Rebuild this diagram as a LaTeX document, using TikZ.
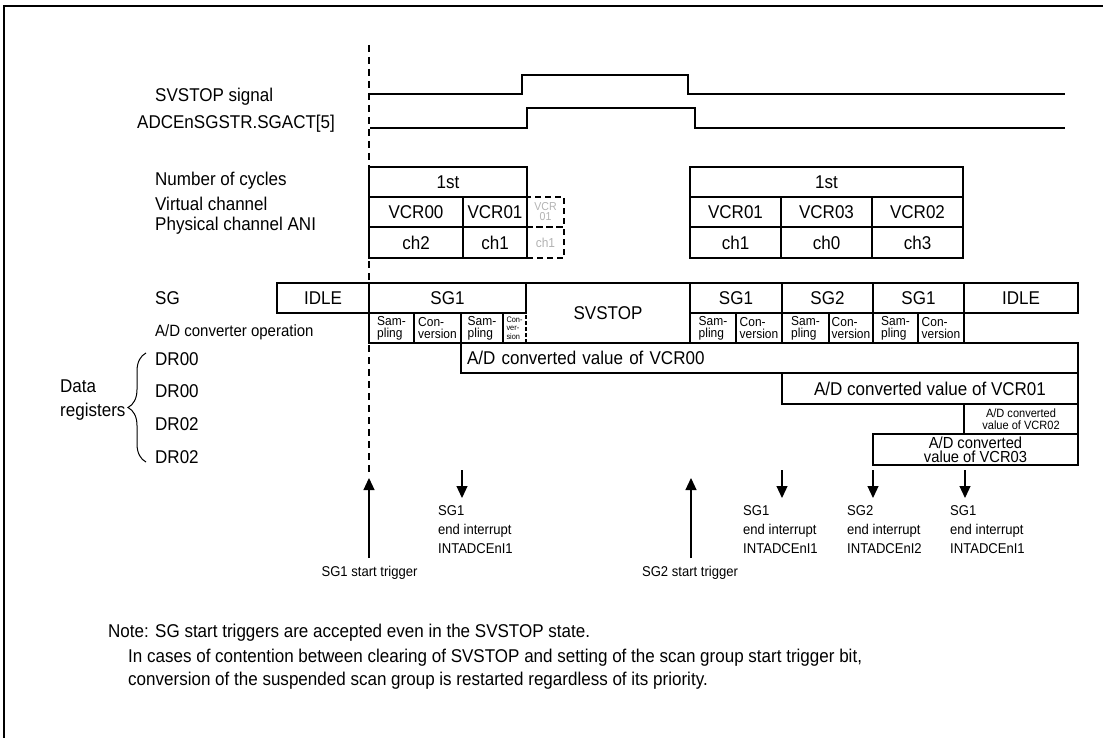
\documentclass[tikz,border=0pt]{standalone}
\usepackage{fontspec}
\setmainfont[FakeStretch=0.92]{Liberation Sans}
\usetikzlibrary{arrows.meta,decorations.pathreplacing}
\begin{document}
\begin{tikzpicture}[x=1pt,y=-1pt,
  lbl/.style={anchor=west, inner sep=0pt, font=\fontsize{18.5}{21}\selectfont},
  cell/.style={draw, line width=1.5pt, inner sep=0pt, font=\fontsize{18.5}{21}\selectfont},
  ghost/.style={draw, dash pattern=on 6pt off 4pt, line width=1.5pt, inner sep=0pt, text=black!30, align=center, font=\fontsize{11.5}{10}\selectfont},
  sub/.style={draw, line width=1.5pt, inner sep=0pt, minimum height=30pt, align=left, font=\fontsize{13}{12}\selectfont},
  tiny/.style={inner sep=0pt, minimum height=30pt, align=left, font=\fontsize{8}{8.5}\selectfont},
  small/.style={inner sep=0pt, align=left, font=\fontsize{14.2}{19}\selectfont},
  sig/.style={line width=1.3pt},
  arr/.style={line width=1.2pt, -{Triangle[width=11pt,length=12pt]}},
  boxline/.style={line width=1.5pt}
]
\useasboundingbox (0,0) rectangle (1103,738);
% frame
\draw[line width=2pt] (4,738) -- (4,6) -- (1103,6);

% dashed time line
\coordinate (dtop) at (369,45);
\coordinate (dbot) at (369,475);
\draw[line width=1.2pt, dash pattern=on 7pt off 5pt] (dtop) -- (dbot);

% left labels
\node[lbl] (lsv) at (155,97) {SVSTOP signal};
\node[lbl] (lad) at (137,124) {ADCEnSGSTR.SGACT[5]};
\node[lbl] (lnc) at (155,181) {Number of cycles};
\node[lbl] (lvc) at (155,204) {Virtual channel};
\node[lbl] (lpc) at (155,226) {Physical channel ANI};
\node[lbl] (lsg) at (155,298) {SG};
\node[lbl, font=\fontsize{16.3}{18}\selectfont] (lop) at (155,332) {A/D converter operation};
\node[lbl] (ld0) at (155,359) {DR00};
\node[lbl] (ld1) at (155,391) {DR00};
\node[lbl] (ld2) at (155,424) {DR02};
\node[lbl] (ld3) at (155,457) {DR02};
\node[lbl, align=left, font=\fontsize{18.5}{24}\selectfont] (ldr) at (60,400) {Data\\registers};
\coordinate (brb) at (146,462);
\coordinate (brt) at (146,353);
\draw[line width=1pt, decorate, decoration={brace, amplitude=18pt}] (brb) -- (brt);

% signals
\coordinate (s1a) at (370,94);
\coordinate (s1b) at (1065,94);
\coordinate (s2a) at (370,128);
\coordinate (s2b) at (1065,128);
\draw[sig] (s1a) -- (522,94) -- (522,75) -- (688,75) -- (688,94) -- (s1b);
\draw[sig] (s2a) -- (527,128) -- (527,108) -- (695,108) -- (695,128) -- (s2b);

% ghost cells (suspended)
\node[ghost, minimum width=37pt, minimum height=30pt] (g1) at (545.5,212) {VCR\\01};
\node[ghost, minimum width=37pt, minimum height=31pt, font=\fontsize{13}{12}\selectfont] (g2) at (545.5,242.5) {ch1};

% table 1
\node[cell, minimum width=158pt, minimum height=30pt] (ta) at (448,182) {1st};
\node[cell, minimum width=94pt, minimum height=30pt] (tb) at (416,212) {VCR00};
\node[cell, minimum width=64pt, minimum height=30pt] (tc) at (495,212) {VCR01};
\node[cell, minimum width=94pt, minimum height=31pt] (td) at (416,242.5) {ch2};
\node[cell, minimum width=64pt, minimum height=31pt] (te) at (495,242.5) {ch1};

% table 2
\node[cell, minimum width=273pt, minimum height=30pt] (ua) at (826.5,182) {1st};
\node[cell, minimum width=91pt, minimum height=30pt] (ub) at (735.5,212) {VCR01};
\node[cell, minimum width=91pt, minimum height=30pt] (uc) at (826.5,212) {VCR03};
\node[cell, minimum width=91pt, minimum height=30pt] (ud) at (917.5,212) {VCR02};
\node[cell, minimum width=91pt, minimum height=31pt] (ue) at (735.5,242.5) {ch1};
\node[cell, minimum width=91pt, minimum height=31pt] (uf) at (826.5,242.5) {ch0};
\node[cell, minimum width=91pt, minimum height=31pt] (ug) at (917.5,242.5) {ch3};

% SG row
\node[cell, minimum width=92pt, minimum height=30pt] (sg0) at (323,298) {IDLE};
\node[cell, minimum width=157pt, minimum height=30pt] (sg1) at (447.5,298) {SG1};
\node[inner sep=0pt, minimum width=164pt, minimum height=60pt, font=\fontsize{18.5}{21}\selectfont] (sgs) at (608,313) {SVSTOP};
\draw[boxline] (sgs.north west) -- (sgs.north east) -- (sgs.south east) -- (sgs.south west);
\node[cell, minimum width=92pt, minimum height=30pt] (sg2) at (736,298) {SG1};
\node[cell, minimum width=91pt, minimum height=30pt] (sg3) at (827.5,298) {SG2};
\node[cell, minimum width=91pt, minimum height=30pt] (sg4) at (918.5,298) {SG1};
\node[cell, minimum width=114pt, minimum height=30pt] (sg5) at (1021,298) {IDLE};

% A/D converter operation row
\node[sub, minimum width=45pt] (o1) at (391.5,328) {Sam-\\pling};
\node[sub, minimum width=47pt] (o2) at (437.5,328) {Con-\\version};
\node[sub, minimum width=42pt] (o3) at (482,328) {Sam-\\pling};
\node[tiny, minimum width=23pt] (o4) at (514.5,328) {Con-\\ver-\\sion};
\draw[boxline] (o4.north east) -- (o4.north west) -- (o4.south west) -- (o4.south east);
\draw[line width=1.5pt, dash pattern=on 4pt off 2pt] (o4.south east) -- (o4.north east);
\node[sub, minimum width=46pt] (p1) at (713,328) {Sam-\\pling};
\node[sub, minimum width=46pt] (p2) at (759,328) {Con-\\version};
\node[sub, minimum width=47pt] (p3) at (805.5,328) {Sam-\\pling};
\node[sub, minimum width=44pt] (p4) at (851,328) {Con-\\version};
\node[sub, minimum width=45pt] (p5) at (895.5,328) {Sam-\\pling};
\node[sub, minimum width=46pt] (p6) at (941,328) {Con-\\version};

% data registers
\node[cell, minimum height=30pt, text width=605pt, inner xsep=6pt, align=left] (dr0) at (769.5,358) {A/D converted value of VCR00};
\node[cell, minimum width=296pt, minimum height=31pt] (dr1) at (930,388.5) {A/D converted value of VCR01};
\node[cell, minimum width=114pt, minimum height=30pt, align=center, font=\fontsize{12}{11.5}\selectfont] (dr2) at (1021,419) {A/D converted\\value of VCR02};
\node[cell, minimum width=205pt, minimum height=31pt, align=center, font=\fontsize{16}{14}\selectfont] (dr3) at (975.5,449.5) {A/D converted\\value of VCR03};

% start triggers
\coordinate (t1b) at (369,558);
\coordinate (t1t) at (369,478);
\coordinate (t2b) at (691,558);
\coordinate (t2t) at (691,478);
\draw[arr] (t1b) -- (t1t);
\draw[arr] (t2b) -- (t2t);
\node[inner sep=0pt, font=\fontsize{14.2}{16}\selectfont] (tl1) at (369.5,573) {SG1 start trigger};
\node[inner sep=0pt, font=\fontsize{14.2}{16}\selectfont] (tl2) at (690,573) {SG2 start trigger};

% end interrupts
\coordinate (i1t) at (462,470);
\coordinate (i1b) at (462,498);
\coordinate (i2t) at (782,470);
\coordinate (i2b) at (782,498);
\coordinate (i3t) at (873,470);
\coordinate (i3b) at (873,498);
\coordinate (i4t) at (965,470);
\coordinate (i4b) at (965,498);
\draw[arr] (i1t) -- (i1b);
\draw[arr] (i2t) -- (i2b);
\draw[arr] (i3t) -- (i3b);
\draw[arr] (i4t) -- (i4b);
\node[small, anchor=west] (il1) at (438,530) {SG1\\end interrupt\\INTADCEnI1};
\node[small, anchor=west] (il2) at (743,530) {SG1\\end interrupt\\INTADCEnI1};
\node[small, anchor=west] (il3) at (847,530) {SG2\\end interrupt\\INTADCEnI2};
\node[small, anchor=west] (il4) at (950,530) {SG1\\end interrupt\\INTADCEnI1};

% note
\node[lbl] (n1) at (108,633) {Note: SG start triggers are accepted even in the SVSTOP state.};
\node[lbl] (n2) at (128,658) {In cases of contention between clearing of SVSTOP and setting of the scan group start trigger bit,};
\node[lbl] (n3) at (128,681) {conversion of the suspended scan group is restarted regardless of its priority.};
\end{tikzpicture}
\end{document}
